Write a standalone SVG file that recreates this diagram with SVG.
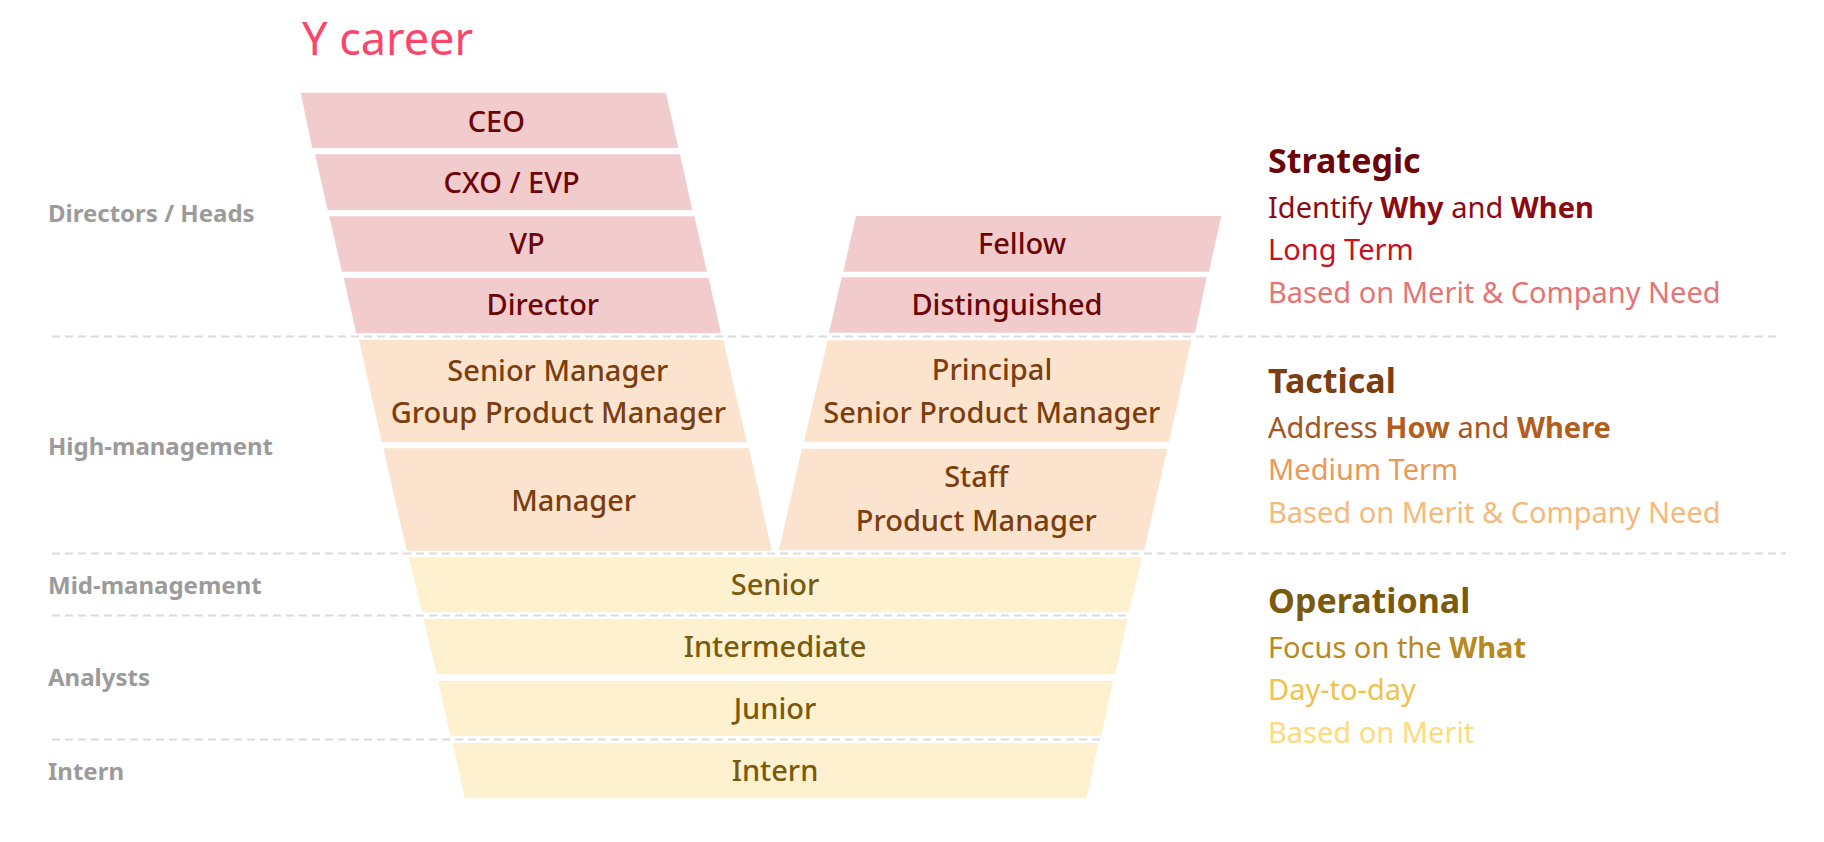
<svg xmlns="http://www.w3.org/2000/svg" width="1824" height="842" viewBox="0 0 1824 842">
  <style>
    text { font-family: "Noto Sans", "Open Sans", "Liberation Sans", sans-serif; }
    .title { font-size: 45px; fill: #f9466a; }
    .band { font-size: 24px; font-weight: 700; fill: #9b9b9b; }
    .lvl { font-size: 29px; font-weight: 500; text-anchor: middle; }
    .red { fill: #f2cbcd; }
    .peach { fill: #fbe3cd; }
    .cream { fill: #fef1cf; }
    .t-red { fill: #6b0508; }
    .t-brown { fill: #7a3e10; }
    .t-olive { fill: #7a5a0e; }
    .sep { stroke: #dcdcdc; stroke-width: 2; stroke-dasharray: 8 5; fill: none; }
    .head { font-size: 34px; font-weight: 700; }
    .line { font-size: 29px; }
    .b { font-weight: 700; }
  </style>

  <text class="title" x="302" y="55">Y career</text>

  <!-- band labels -->
  <g id="bands">
    <text class="band" x="48" y="222">Directors / Heads</text>
    <text class="band" x="48" y="455">High-management</text>
    <text class="band" x="48" y="594">Mid-management</text>
    <text class="band" x="48" y="686">Analysts</text>
    <text class="band" x="48" y="780">Intern</text>
  </g>

  <!-- dashed band separators -->
  <g id="connectors">
    <line class="sep" x1="52" y1="336.5" x2="1780" y2="336.5"/>
    <line class="sep" x1="52" y1="553.5" x2="1786" y2="553.5"/>
    <line class="sep" x1="52" y1="615.5" x2="1128" y2="615.5"/>
    <line class="sep" x1="52" y1="739.5" x2="1101" y2="739.5"/>
  </g>

  <!-- management track -->
  <g id="ceo">
    <polygon class="red" points="300.7,92.7 666,92.7 678.3,148 312.3,148"/>
    <text class="lvl t-red" x="496.3" y="131.7">CEO</text>
  </g>
  <g id="cxo">
    <polygon class="red" points="315,154.3 680,154.3 692.3,210 327.7,210"/>
    <text class="lvl t-red" x="511.7" y="192.7">CXO / EVP</text>
  </g>
  <g id="vp">
    <polygon class="red" points="329.3,216.3 694.3,216.3 707,271.7 342,271.7"/>
    <text class="lvl t-red" x="527" y="254">VP</text>
  </g>
  <g id="director">
    <polygon class="red" points="343.7,278 708.7,278 721,333.3 356.3,333.3"/>
    <text class="lvl t-red" x="542.8" y="315">Director</text>
  </g>
  <g id="senior-manager">
    <polygon class="peach" points="359,340 723.3,340 746.7,442 381.7,442"/>
    <text class="lvl t-brown" x="557.8" y="380.7">Senior Manager</text>
    <text class="lvl t-brown" x="558.3" y="422.7">Group Product Manager</text>
  </g>
  <g id="manager">
    <polygon class="peach" points="383.3,448.3 749,448.3 771.7,550.7 406.7,550.7"/>
    <text class="lvl t-brown" x="573.7" y="511">Manager</text>
  </g>

  <!-- individual contributor track -->
  <g id="fellow">
    <polygon class="red" points="856,216 1221.3,216 1209,271.7 843.3,271.7"/>
    <text class="lvl t-red" x="1022" y="254.3">Fellow</text>
  </g>
  <g id="distinguished">
    <polygon class="red" points="841.7,277.3 1206.7,277.3 1195,332.7 829,332.7"/>
    <text class="lvl t-red" x="1007" y="315">Distinguished</text>
  </g>
  <g id="principal">
    <polygon class="peach" points="827.7,340.3 1191.3,340.3 1169,441.7 804,441.7"/>
    <text class="lvl t-brown" x="992" y="380">Principal</text>
    <text class="lvl t-brown" x="991.8" y="422.7">Senior Product Manager</text>
  </g>
  <g id="staff">
    <polygon class="peach" points="802,448.7 1167.3,448.7 1144.3,550 779,550"/>
    <text class="lvl t-brown" x="976.3" y="487.3">Staff</text>
    <text class="lvl t-brown" x="976.3" y="530.7">Product Manager</text>
  </g>

  <!-- shared base -->
  <g id="senior">
    <polygon class="cream" points="409,557.3 1142,557.3 1129,612.3 422,612.3"/>
    <text class="lvl t-olive" x="775" y="595">Senior</text>
  </g>
  <g id="intermediate">
    <polygon class="cream" points="423.6,619 1127.5,619 1115.3,674.3 436.7,674.3"/>
    <text class="lvl t-olive" x="775" y="657.3">Intermediate</text>
  </g>
  <g id="junior">
    <polygon class="cream" points="438.2,681 1113,681 1101.3,736 450.3,736"/>
    <text class="lvl t-olive" x="775" y="719.3">Junior</text>
  </g>
  <g id="intern">
    <polygon class="cream" points="452.7,743 1098.4,743 1086.7,798.3 464.8,798.3"/>
    <text class="lvl t-olive" x="775" y="780.7">Intern</text>
  </g>

  <!-- level descriptions -->
  <g id="strategic">
    <text class="head" x="1268" y="172.7" fill="#6b0508">Strategic</text>
    <text class="line" x="1268" y="218.3" fill="#8c0a12">Identify <tspan class="b">Why</tspan> and <tspan class="b">When</tspan></text>
    <text class="line" x="1268" y="260" fill="#c8101e">Long Term</text>
    <text class="line" x="1268" y="303.3" fill="#e57475">Based on Merit &amp; Company Need</text>
  </g>
  <g id="tactical">
    <text class="head" x="1268" y="392.7" fill="#7a3e10">Tactical</text>
    <text class="line" x="1268" y="438.3" fill="#a5561e">Address <tspan class="b" fill="#b35e1e">How</tspan> and <tspan class="b" fill="#b35e1e">Where</tspan></text>
    <text class="line" x="1268" y="480" fill="#ea9a58">Medium Term</text>
    <text class="line" x="1268" y="523.3" fill="#f6b97c">Based on Merit &amp; Company Need</text>
  </g>
  <g id="operational">
    <text class="head" x="1268" y="612.7" fill="#7a5a0e">Operational</text>
    <text class="line" x="1268" y="658.3" fill="#b8891e">Focus on the <tspan class="b">What</tspan></text>
    <text class="line" x="1268" y="700" fill="#f0c24c">Day-to-day</text>
    <text class="line" x="1268" y="743.3" fill="#fedb7c">Based on Merit</text>
  </g>
</svg>
